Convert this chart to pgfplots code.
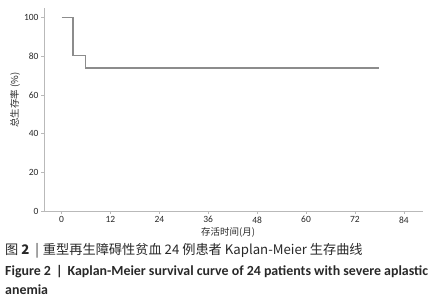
\documentclass[border=0pt]{standalone}
\usepackage{pgfplots}
\pgfplotsset{compat=1.18}
\usepackage{fontspec}
\setmainfont{Carlito}
\newfontfamily\cjk{Noto Sans CJK SC}
\definecolor{spine}{RGB}{185,185,185}
\definecolor{curve}{RGB}{140,140,140}
\definecolor{txt}{RGB}{40,40,40}
\begin{document}
\begin{tikzpicture}[x=1pt,y=1pt]
\path[use as bounding box] (0,0) rectangle (433,-300);
\begin{axis}[
  at={(44pt,-211pt)}, anchor=south west,
  scale only axis, width=379pt, height=203pt,
  xmin=-4.3, xmax=88.7, ymin=0, ymax=105,
  axis x line*=bottom, axis y line*=left,
  axis line style={spine, line width=0.9pt, -},
  xtick={0,12,...,84}, ytick={0,20,...,100},
  tick style={spine, line width=0.6pt},
  tick align=outside, major tick length=3pt,
  ticklabel style={font=\fontsize{9.5}{10}\selectfont, text=txt},
  /pgf/number format/assume math mode=true,
  xticklabel style={yshift=1pt},
  yticklabel style={xshift=1pt},
  clip=false,
]
\addplot[const plot, curve, line width=1.3pt] coordinates {
(0,100) (2.8,100) (2.8,80.4) (5.9,80.4) (5.9,74) (78,74)
};
\end{axis}
\node[rotate=90, text=txt, font=\cjk\fontsize{9.5}{10}\selectfont] at (15,-100) {总生存率 (\%)};
\node[text=txt, font=\cjk\fontsize{9.5}{10}\selectfont] at (228,-232) {存活时间(月)};
\node[anchor=west, text=txt, font=\cjk\fontsize{13.2}{14}\selectfont, inner sep=0] at (5,-251) {图 \textbf{2}\hspace{6pt}|\hspace{4pt}重型再生障碍性贫血 24 例患者 Kaplan-Meier 生存曲线};
\node[anchor=west, text=txt, font=\bfseries\fontsize{13.9}{15}\selectfont, inner sep=0] at (5,-272) {Figure 2\hspace{5pt}|\hspace{5pt}Kaplan-Meier survival curve of 24 patients with severe aplastic};
\node[anchor=west, text=txt, font=\bfseries\fontsize{13.9}{15}\selectfont, inner sep=0] at (5,-290) {anemia};
\end{tikzpicture}
\end{document}
